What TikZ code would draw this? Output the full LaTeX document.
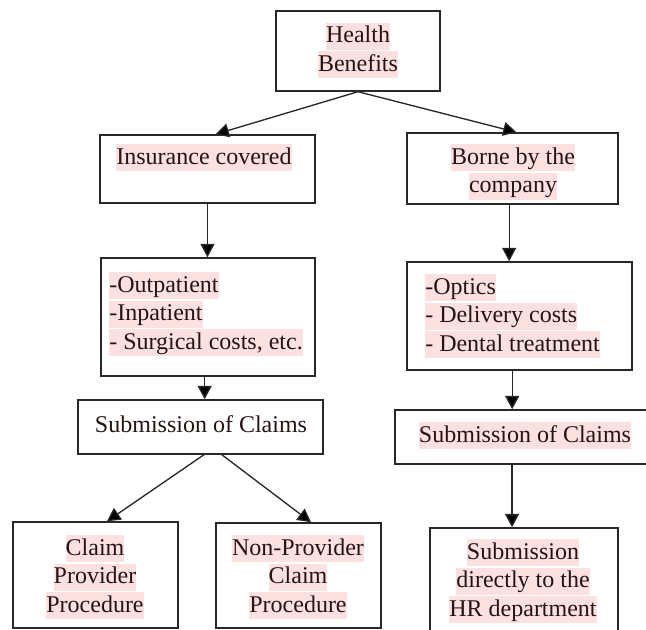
\documentclass[tikz,border=0pt]{standalone}
\usepackage{fontspec}
\setmainfont{Liberation Serif}
\usetikzlibrary{arrows.meta}

\definecolor{hlpink}{RGB}{253,225,225}
\definecolor{inkbrown}{RGB}{38,20,20}
\definecolor{linegray}{RGB}{40,40,40}
\setlength{\fboxsep}{0pt}
\newcommand{\hlline}[1]{\colorbox{hlpink}{\rule[-5.2pt]{0pt}{20.25pt}#1}}
\newcommand{\plainline}[1]{\rule[-5.2pt]{0pt}{20.25pt}#1}

\begin{document}
\begin{tikzpicture}[x=0.75pt,y=0.75pt,yscale=-1,xscale=1,
  box/.style={draw=linegray,line width=1.1pt,fill=white,inner sep=0pt},
  txt/.style={inner sep=0pt,text=inkbrown,font=\fontsize{18pt}{21.4pt}\selectfont},
  link/.style={draw=linegray,line width=1pt,-{Triangle[length=10pt,width=10.5pt,fill=black]}}]
\useasboundingbox (0,0) rectangle (646,630);

%Shape: Rectangle
\node[box,minimum width=123pt,minimum height=60pt] (hb) at (358,51) {};
\node[box,minimum width=161.25pt,minimum height=51pt] (ins) at (207.5,169) {};
\node[box,minimum width=158.25pt,minimum height=53.25pt] (borne) at (512.5,168.5) {};
\node[box,minimum width=160.5pt,minimum height=88.5pt] (outp) at (208,317) {};
\node[box,minimum width=168.75pt,minimum height=81pt] (opt) at (519.5,316) {};
\node[box,minimum width=183.75pt,minimum height=40.5pt] (subl) at (200.5,427) {};
\node[box,minimum width=198.75pt,minimum height=40.5pt] (subr) at (527.5,437) {};
\node[box,minimum width=123.75pt,minimum height=79.5pt] (cpp) at (95.5,575) {};
\node[box,minimum width=123.75pt,minimum height=78.75pt] (npc) at (298.5,575.5) {};
\node[box,minimum width=141pt,minimum height=87.75pt] (hr) at (524,586.5) {};

% Text Node
\node[txt,anchor=north,align=center] (hbt) at (358,22.5) {\hlline{Health}\\\hlline{Benefits}};
% Text Node
\node[txt,anchor=north,align=center] (inst) at (204,144) {\hlline{Insurance covered}};
% Text Node
\node[txt,anchor=north,align=center] (bornet) at (513,144) {\hlline{Borne by the}\\\hlline{company}};
% Text Node
\node[txt,anchor=north west,align=left] (outpt) at (109,272) {\hlline{-Outpatient}\\\hlline{-Inpatient}\\\hlline{- Surgical costs, etc.}};
% Text Node
\node[txt,anchor=north west,align=left] (optt) at (425,274) {\hlline{-Optics}\\\hlline{- Delivery costs}\\\hlline{- Dental treatment}};
% Text Node
\node[txt,anchor=north,align=center] (sublt) at (201,412.5) {\plainline{Submission of Claims}};
% Text Node
\node[txt,anchor=north,align=center] (subrt) at (525,422) {\hlline{Submission of Claims}};
% Text Node
\node[txt,anchor=north,align=center] (cppt) at (95,535) {\hlline{Claim}\\\hlline{Provider}\\\hlline{Procedure}};
% Text Node
\node[txt,anchor=north,align=center] (npct) at (298,535) {\hlline{Non-Provider}\\\hlline{Claim}\\\hlline{Procedure}};
% Text Node
\node[txt,anchor=north,align=center] (hrt) at (523,539) {\hlline{Submission}\\\hlline{directly to the}\\\hlline{HR department}};

%Straight Lines
\draw[link] (hb.south) -- ([xshift=6pt]ins.north);
\draw[link] (hb.south) -- ([xshift=3pt]borne.north);
\draw[link] (ins.south) -- (ins.south |- outp.north);
\draw[link] ([xshift=-2.5pt]borne.south) -- ([xshift=-2.5pt]borne.south |- opt.north);
\draw[link] ([xshift=-2.5pt]outp.south) -- ([xshift=-2.5pt]outp.south |- subl.north);
\draw[link] ([xshift=-5.5pt]opt.south) -- ([xshift=-5.5pt]opt.south |- subr.north);
\draw[link] ([xshift=2.6pt]subl.south) -- ([xshift=8.6pt]cpp.north);
\draw[link] ([xshift=16pt]subl.south) -- ([xshift=9.4pt]npc.north);
\draw[link] ([xshift=-11.6pt]subr.south) -- ([xshift=-11.6pt]subr.south |- hr.north);

\end{tikzpicture}
\end{document}
